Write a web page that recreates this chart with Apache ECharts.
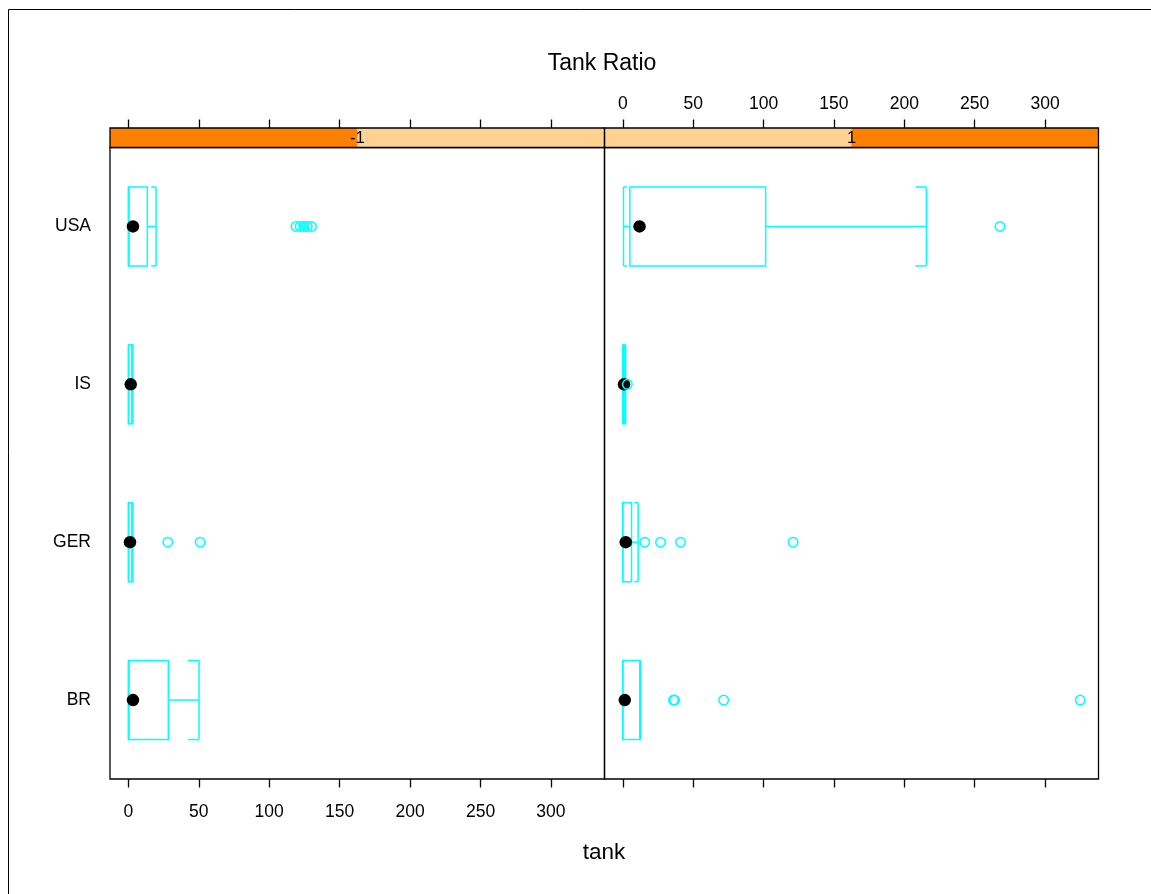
<!DOCTYPE html>
<html>
<head>
<meta charset="utf-8">
<script src="https://cdn.jsdelivr.net/npm/echarts@6/dist/echarts.min.js"></script>
<style>
html,body{margin:0;padding:0;background:#fff;}
#chart{width:1151px;height:894px;}
</style>
</head>
<body>
<div id="chart"></div>
<script>
// ---------------- data ----------------
const categories = ['BR', 'GER', 'IS', 'USA'];
const panelLabels = ['-1', '1'];
// five-number summaries [lowerWhisker, q1, median, q3, upperWhisker], in category order
const statsNeg = [
  [0, 0.5, 3.3, 28.4, 50.2],
  [0, 0.3, 1.2, 2.5, 3.3],
  [0, 0.3, 1.7, 2.5, 3.3],
  [0, 0.5, 3.3, 13.5, 19.7]
];
const statsPos = [
  [0, 0, 1.4, 12.1, 12.7],
  [0, 0, 2.1, 6.2, 10.9],
  [0, 0.2, 0.85, 1.0, 2.0],
  [0.5, 5, 11.9, 101.5, 215.7]
];
const outliersNeg = [
  [],
  [28, 51],
  [],
  [119, 122, 124.5, 127, 130]
];
const outliersPos = [
  [36, 36.8, 71.7, 325],
  [15.6, 26.8, 41, 121],
  [3.2],
  [268]
];
const tickValues = [0, 50, 100, 150, 200, 250, 300];
const mainTitle = 'Tank Ratio';
const xTitle = 'tank';

// ---------------- layout / style ----------------
const FONT = 'Liberation Sans, Arial, sans-serif';
const CYAN = '#00FFFF';
const STRIP_DARK = '#FF7F00';
const STRIP_LIGHT = '#FFD291';
const PANEL_TOP = 147.5, PANEL_H = 631.5, STRIP_H = 19.5;
const panelsGeom = [{ left: 110, width: 494.5 }, { left: 604.5, width: 494 }];

// range: data extent padded by 4%
let allVals = [];
[statsNeg, statsPos].forEach(s => s.forEach(r => allVals.push(...r)));
[outliersNeg, outliersPos].forEach(s => s.forEach(r => allVals.push(...r)));
const dMin = Math.min(...allVals), dMax = Math.max(...allVals);
const pad = 0.04 * (dMax - dMin);
const xMin = dMin - pad, xMax = dMax + pad;

function boxRows(stats) {
  return stats.map((s, i) => [i, s[0], s[1], s[2], s[3], s[4]]);
}
function medianRows(stats) {
  return stats.map((s, i) => [s[2], i]);
}
function outlierRows(outs) {
  const r = [];
  outs.forEach((arr, i) => arr.forEach(v => r.push([v, i])));
  return r;
}

function renderBox(params, api) {
  const cat = api.value(0);
  const lw = api.value(1), q1 = api.value(2), q3 = api.value(4), uw = api.value(5);
  const band = api.size([0, 1])[1];
  const h = band * 0.5;
  const y = api.coord([q1, cat])[1];
  const xl = api.coord([lw, cat])[0];
  const x1 = api.coord([q1, cat])[0];
  const x3 = api.coord([q3, cat])[0];
  const xu = api.coord([uw, cat])[0];
  const top = y - h / 2, bot = y + h / 2;
  const st = { stroke: CYAN, lineWidth: 1.5, fill: null };
  const armU = Math.min((xu - x3) / 2 + 0.5, 11);
  const armL = Math.min((x1 - xl) / 2 + 0.5, 11);
  const line = (a, b, c, d) => ({ type: 'line', shape: { x1: a, y1: b, x2: c, y2: d }, style: st });
  return {
    type: 'group',
    children: [
      { type: 'rect', shape: { x: x1, y: top, width: x3 - x1, height: h }, style: st },
      line(x3, y, xu, y),
      line(xl, y, x1, y),
      line(xu, top, xu, bot),
      line(xu, top, xu - armU, top),
      line(xu, bot, xu - armU, bot),
      line(xl, top, xl, bot),
      line(xl, top, xl + armL, top),
      line(xl, bot, xl + armL, bot)
    ]
  };
}

const tickLabelStyle = { color: '#000', fontSize: 17.5, fontFamily: FONT };

function xAxisDef(gridIndex, position, showLabel, margin, offset) {
  return {
    type: 'value', gridIndex, position, offset: offset || 0,
    min: xMin, max: xMax,
    splitLine: { show: false },
    axisLine: { show: false, onZero: false },
    axisTick: { show: true, inside: false, length: 8.5, customValues: tickValues,
      lineStyle: { color: '#000', width: 1.3 } },
    axisLabel: { show: showLabel, customValues: tickValues, margin, ...tickLabelStyle }
  };
}
function yAxisDef(gridIndex, position, showLabel) {
  return {
    type: 'category', gridIndex, position, data: categories,
    boundaryGap: true,
    axisLine: { show: false, onZero: false },
    axisTick: { show: false },
    axisLabel: { show: showLabel, margin: 19, ...tickLabelStyle },
    splitLine: { show: false }
  };
}

const grids = panelsGeom.map(p => ({
  left: p.left, top: PANEL_TOP, width: p.width, height: PANEL_H,
  show: true, borderColor: '#000', borderWidth: 1.3, backgroundColor: 'transparent'
}));

function panelSeries(stats, outs, xIdx, yIdx) {
  return [
    {
      type: 'custom', xAxisIndex: xIdx, yAxisIndex: yIdx,
      renderItem: renderBox, data: boxRows(stats),
      encode: { x: [1, 2, 3, 4, 5], y: 0 }, z: 2, silent: true
    },
    {
      type: 'scatter', xAxisIndex: xIdx, yAxisIndex: yIdx,
      data: medianRows(stats), symbol: 'circle', symbolSize: 12.5,
      itemStyle: { color: '#000', opacity: 1 }, z: 3, silent: true
    },
    {
      type: 'scatter', xAxisIndex: xIdx, yAxisIndex: yIdx,
      data: outlierRows(outs), symbol: 'circle', symbolSize: 9.5,
      itemStyle: { color: 'transparent', borderColor: CYAN, borderWidth: 1.5, opacity: 1 },
      z: 4, silent: true
    }
  ];
}

// strips
const stripGraphics = [];
panelsGeom.forEach((p, i) => {
  const half = p.width / 2;
  const darkLeft = i === 0;
  stripGraphics.push({
    type: 'rect', shape: { x: p.left, y: PANEL_TOP - STRIP_H, width: p.width, height: STRIP_H },
    style: { fill: STRIP_LIGHT, stroke: null }, z: 1
  });
  stripGraphics.push({
    type: 'rect', shape: { x: darkLeft ? p.left : p.left + half, y: PANEL_TOP - STRIP_H, width: half, height: STRIP_H },
    style: { fill: STRIP_DARK, stroke: null }, z: 2
  });
  stripGraphics.push({
    type: 'rect', shape: { x: p.left, y: PANEL_TOP - STRIP_H, width: p.width, height: STRIP_H },
    style: { fill: null, stroke: '#000', lineWidth: 1.3 }, z: 3
  });
  stripGraphics.push({
    type: 'text', x: p.left + half, y: PANEL_TOP - STRIP_H / 2 + 0.5, z: 4,
    style: { text: panelLabels[i], fill: '#000', font: '16.5px ' + FONT, textAlign: 'center', textVerticalAlign: 'middle' }
  });
});

const option = {
  backgroundColor: '#fff',
  animation: false,
  grid: grids,
  xAxis: [
    xAxisDef(0, 'bottom', true, 24, 0),
    xAxisDef(0, 'top', false, 14.6, STRIP_H),
    xAxisDef(1, 'bottom', false, 24, 0),
    xAxisDef(1, 'top', true, 14.6, STRIP_H)
  ],
  yAxis: [
    yAxisDef(0, 'left', true),
    yAxisDef(1, 'right', false)
  ],
  series: [
    ...panelSeries(statsNeg, outliersNeg, 0, 0),
    ...panelSeries(statsPos, outliersPos, 2, 1)
  ],
  graphic: [
    { type: 'rect', shape: { x: 8.5, y: 9.5, width: 1200, height: 1000 },
      style: { fill: null, stroke: '#000', lineWidth: 1 }, z: 0, silent: true },
    ...stripGraphics,
    { type: 'text', x: 602, y: 63.2, z: 5,
      style: { text: mainTitle, fill: '#000', font: '23px ' + FONT, textAlign: 'center', textVerticalAlign: 'middle' } },
    { type: 'text', x: 604, y: 853, z: 5,
      style: { text: xTitle, fill: '#000', font: '22.5px ' + FONT, textAlign: 'center', textVerticalAlign: 'middle' } }
  ]
};

const chart = echarts.init(document.getElementById('chart'), null, { renderer: 'canvas' });
chart.setOption(option);
</script>
</body>
</html>
